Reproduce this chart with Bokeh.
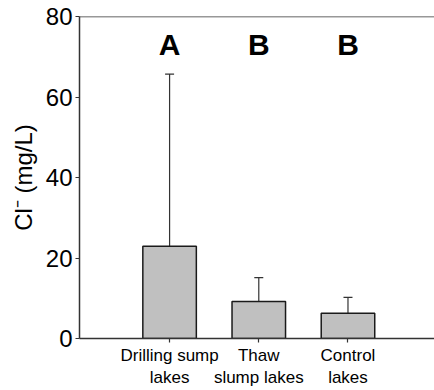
from bokeh.plotting import figure
from bokeh.models import Range1d, Whisker, TeeHead, Span, ColumnDataSource, FixedTicker
from bokeh.core.properties import value
from bokeh.embed import file_html
from bokeh.resources import INLINE

categories = ["Drilling sump\nlakes", "Thaw\nslump lakes", "Control\nlakes"]
positions = [1, 2, 3]
means = [22.9, 9.2, 6.3]
upper = [65.7, 15.1, 10.2]
letters = ["A", "B", "B"]
letter_y = [73.0, 73.0, 73.0]
y_ticks = [0, 20, 40, 60, 80]

FONT = "Liberation Sans"
LINE = "#333333"

p = figure(width=434, height=390, output_backend="svg", toolbar_location=None,
           x_range=Range1d(-0.01, 3.97), y_range=Range1d(0, 80),
           min_border_left=79, min_border_right=0, min_border_top=16, min_border_bottom=52)
p.outline_line_color = None
p.grid.visible = False
p.background_fill_color = "white"
p.border_fill_color = "white"

src = ColumnDataSource(dict(x=positions, top=means, upper=upper))
p.vbar(x="x", top="top", bottom=0, width=0.6, source=src,
       fill_color="#c0c0c0", line_color="#1a1a1a", line_width=1.5)

w = Whisker(base="x", lower="top", upper="upper", source=src, dimension="height",
            line_color="#333333", line_width=1.2,
            lower_head=None, upper_head=TeeHead(size=9, line_color="#333333", line_width=1.2))
p.add_layout(w)

p.text(x=positions, y=letter_y, text=letters, text_font=value(FONT),
       text_font_style="bold", text_font_size="30px", text_align="center",
       text_baseline="middle", text_color="black")

p.add_layout(Span(location=80, dimension="width", line_color=LINE, line_width=1.5))

# axes
p.xaxis.ticker = FixedTicker(ticks=positions)
p.xaxis.major_label_overrides = {pos: lab for pos, lab in zip(positions, categories)}
p.xaxis.major_label_text_font = FONT
p.xaxis.major_label_text_font_size = "17px"
p.xaxis.major_label_text_color = "black"
p.xaxis.major_label_standoff = 3
p.xaxis.major_tick_in = 0
p.xaxis.major_tick_out = 4
p.xaxis.minor_tick_line_color = None
p.xaxis.axis_line_color = LINE
p.xaxis.axis_line_width = 1.5
p.xaxis.major_tick_line_color = LINE
p.xaxis.major_tick_line_width = 1.2

p.yaxis.ticker = FixedTicker(ticks=y_ticks)
p.yaxis.major_label_text_font = FONT
p.yaxis.major_label_text_font_size = "24px"
p.yaxis.major_label_text_color = "black"
p.yaxis.major_label_standoff = 3
p.yaxis.major_tick_in = 0
p.yaxis.major_tick_out = 4
p.yaxis.minor_tick_line_color = None
p.yaxis.axis_line_color = LINE
p.yaxis.axis_line_width = 1.5
p.yaxis.major_tick_line_color = LINE
p.yaxis.major_tick_line_width = 1.2
p.yaxis.axis_label = "Cl\u207b (mg/L)"
p.yaxis.axis_label_text_font = FONT
p.yaxis.axis_label_text_font_size = "24px"
p.yaxis.axis_label_text_font_style = "normal"
p.yaxis.axis_label_text_color = "black"
p.yaxis.axis_label_standoff = 6

open("out.html", "w").write(file_html(p, INLINE))
